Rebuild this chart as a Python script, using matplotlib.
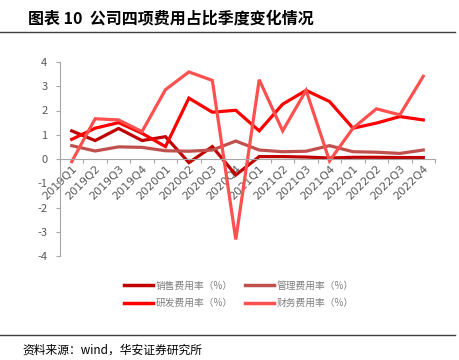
import numpy as np
import matplotlib
matplotlib.use('Agg')
import matplotlib.pyplot as plt
from matplotlib.lines import Line2D

plt.rcParams['font.family'] = ['Noto Sans CJK SC', 'DejaVu Sans']
plt.rcParams['axes.unicode_minus'] = False

quarters = ['2019Q1', '2019Q2', '2019Q3', '2019Q4',
            '2020Q1', '2020Q2', '2020Q3', '2020Q4',
            '2021Q1', '2021Q2', '2021Q3', '2021Q4',
            '2022Q1', '2022Q2', '2022Q3', '2022Q4']

sales = [1.16, 0.76, 1.26, 0.76, 0.92, -0.15, 0.51, -0.66,
         0.10, 0.10, 0.08, 0.04, 0.07, 0.07, 0.06, 0.06]
admin = [0.55, 0.33, 0.50, 0.48, 0.34, 0.32, 0.37, 0.74,
         0.37, 0.30, 0.32, 0.55, 0.30, 0.28, 0.23, 0.37]
rnd = [0.81, 1.27, 1.50, 1.06, 0.51, 2.51, 1.93, 2.01,
       1.16, 2.26, 2.83, 2.37, 1.27, 1.48, 1.75, 1.61]
fin = [-0.11, 1.66, 1.61, 1.13, 2.86, 3.59, 3.24, -3.32,
       3.27, 1.16, 2.83, -0.08, 1.27, 2.07, 1.82, 3.41]

names = ['销售费用率（%）', '管理费用率（%）', '研发费用率（%）', '财务费用率（%）']
colors = ['#C00000', '#C0504D', '#FF0000', '#FF5050']

fig = plt.figure(figsize=(4.59, 3.6), dpi=100)
ax = fig.add_axes([60/459, 1-256/360, 375/459, 194/360])

x = np.arange(len(quarters))
for ys, c in zip([sales, admin, rnd, fin], colors):
    ax.plot(x, ys, color=c, lw=2.3, solid_joinstyle='miter')

grey = '#A6A6A6'
ax.set_xlim(-0.5, 15.5)
ax.set_ylim(-4, 4)
ax.set_yticks(range(-4, 5))
ax.tick_params(axis='y', colors=grey, labelcolor='#595959', labelsize=8,
               length=3, width=0.8, pad=6)
ax.spines['top'].set_visible(False)
ax.spines['right'].set_visible(False)
ax.spines['left'].set_color(grey)
ax.spines['bottom'].set_color(grey)
ax.spines['bottom'].set_position(('data', 0))

ax.set_xticks(x)
ax.set_xticklabels(quarters, rotation=45, ha='right', va='top',
                   rotation_mode='anchor', fontsize=8, color='#595959',
                   family=['DejaVu Sans'])
ax.tick_params(axis='x', which='major', length=0, pad=3)
ax.set_xticks(np.arange(-0.5, 16, 1), minor=True)
ax.tick_params(axis='x', which='minor', length=3, width=0.8, colors=grey)

# legend filled column-wise, so order to get rows: 销售/管理, 研发/财务
order = [0, 2, 1, 3]
handles = [Line2D([], [], color=colors[i], lw=2.5) for i in order]
labels = [names[i] for i in order]
leg = fig.legend(handles, labels, loc='upper left', bbox_to_anchor=(115/459, 1-272/360),
                 ncol=2, frameon=False, fontsize=7, handlelength=3.0,
                 columnspacing=1.2, handletextpad=0.3, labelspacing=0.75)
for t in leg.get_texts():
    t.set_color('#7F7F7F')

fig.text(28/459, 1-18/360, '图表 10  公司四项费用占比季度变化情况', fontsize=11.5,
         fontweight='bold', va='center', ha='left')
fig.add_artist(Line2D([0, 455/459], [1-32/360, 1-32/360], color='#404040', lw=1))
fig.add_artist(Line2D([0, 455/459], [1-335/360, 1-335/360], color='#404040', lw=1))
fig.text(22/459, 1-350/360, '资料来源：wind，华安证券研究所', fontsize=8.5,
         va='center', ha='left')

fig.savefig('out.png', dpi=100)
